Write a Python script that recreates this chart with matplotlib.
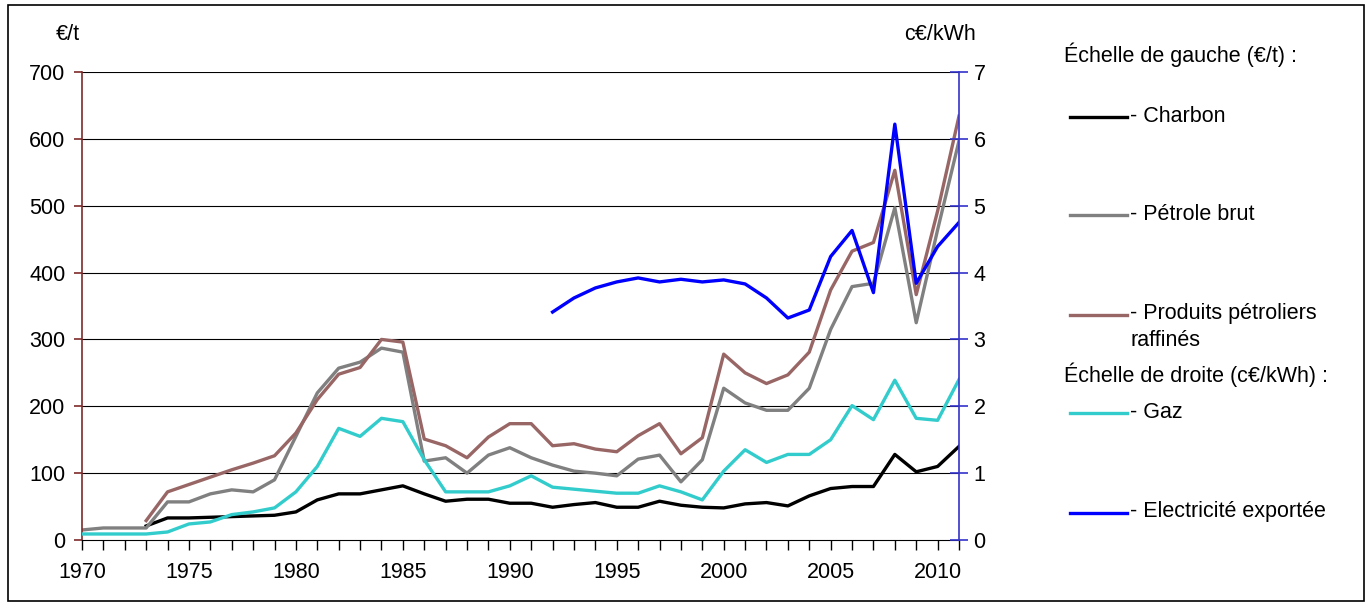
import matplotlib
matplotlib.use("Agg")
import matplotlib.pyplot as plt
import numpy as np
from matplotlib.lines import Line2D
from matplotlib.patches import Rectangle

plt.rcParams['font.family'] = ['Liberation Sans', 'DejaVu Sans']

years = list(range(1970, 2012))

charbon = [None, None, None, 21, 33, 33, 34, 35, 36, 37, 42, 60, 69, 69, 75, 81,
           69, 58, 61, 61, 55, 55, 49, 53, 56, 49, 49, 58, 52, 49, 48, 54,
           56, 51, 66, 77, 80, 80, 128, 102, 110, 140]
petrole = [15, 18, 18, 18, 57, 57, 69, 75, 72, 90, 155, 220, 257, 266, 287, 281,
           118, 123, 100, 127, 138, 123, 112, 103, 100, 96, 121, 127, 87, 120, 227, 205,
           194, 194, 227, 315, 379, 384, 497, 325, 464, 597]
produits = [None, None, None, 29, 72, 83, 94, 105, 115, 126, 160, 210, 248, 258, 300, 296,
            151, 141, 123, 154, 174, 174, 141, 144, 136, 132, 156, 174, 129, 153, 278, 250,
            234, 247, 281, 374, 432, 445, 553, 367, 492, 634]
gaz = [0.09, 0.09, 0.09, 0.09, 0.12, 0.24, 0.27, 0.38, 0.42, 0.48, 0.72, 1.10, 1.67, 1.55, 1.82, 1.77,
       1.20, 0.72, 0.72, 0.72, 0.81, 0.96, 0.79, 0.76, 0.73, 0.70, 0.70, 0.81, 0.72, 0.60, 1.03, 1.35,
       1.16, 1.28, 1.28, 1.50, 2.01, 1.80, 2.39, 1.82, 1.79, 2.40]
elec = [None] * 22 + [3.41, 3.62, 3.77, 3.86, 3.92, 3.86, 3.90, 3.86, 3.89, 3.83,
                      3.62, 3.32, 3.44, 4.24, 4.63, 3.70, 6.22, 3.84, 4.39, 4.75]

def arr(v):
    return np.array([np.nan if x is None else x for x in v], dtype=float)

fig = plt.figure(figsize=(13.7, 6.02), dpi=100)
ax = fig.add_axes([82/1370, 1-540/602, (959-82)/1370, (540-72)/602])
ax2 = ax.twinx()

lw = 2.4
ax.plot(years, arr(charbon), color='black', lw=lw)
ax.plot(years, arr(petrole), color='#808080', lw=lw)
ax.plot(years, arr(produits), color='#996666', lw=lw)
ax2.plot(years, arr(gaz), color='#33CCCC', lw=lw)
ax2.plot(years, arr(elec), color='#0000FF', lw=lw)

ax.set_xlim(1970, 2011)
ax.set_ylim(0, 700)
ax2.set_ylim(0, 7)
ax.set_yticks(range(0, 701, 100))
ax2.set_yticks(range(0, 8))
ax.set_xticks(range(1970, 2011, 5))
ax.set_xticks(range(1970, 2012), minor=True)

for v in range(100, 701, 100):
    ax.axhline(v, color='black', lw=0.8, zorder=0.5)

for s in ['top', 'right']:
    ax.spines[s].set_visible(False)
ax2.spines['top'].set_visible(False)
ax2.spines['left'].set_visible(False)
ax2.spines['bottom'].set_visible(False)
ax.spines['left'].set_color('#7F2A2A')
ax.spines['left'].set_linewidth(1.2)
ax2.spines['right'].set_color('#3333CC')
ax2.spines['right'].set_linewidth(1.2)
ax.spines['bottom'].set_color('black')

fs = 15.5
ax.tick_params(axis='y', colors='#7F2A2A', labelcolor='black', length=6, width=1.2,
               labelsize=fs, pad=6)
ax2.tick_params(axis='y', colors='#3333CC', labelcolor='black', length=13, width=1.2,
                labelsize=fs, direction='inout', pad=4)
ax.tick_params(axis='x', which='both', length=7, width=1, color='black',
               labelsize=fs, pad=9)

fig.text(68/1370, 1-34/602, '€/t', fontsize=fs, ha='center', va='center')
fig.text(940/1370, 1-34/602, 'c€/kWh', fontsize=fs, ha='center', va='center')

# legend
def ltext(x, y, s):
    fig.text(x/1370, 1-y/602, s, fontsize=fs, ha='left', va='center')

def lline(y, color):
    fig.add_artist(Line2D([1070/1370, 1127/1370], [1-y/602, 1-y/602],
                          color=color, lw=lw, transform=fig.transFigure))

ltext(1064, 55, 'Échelle de gauche (€/t) :')
lline(117, 'black'); ltext(1130, 116, '- Charbon')
lline(215, '#808080'); ltext(1130, 214, '- Pétrole brut')
lline(315, '#996666'); ltext(1130, 314, '- Produits pétroliers')
ltext(1130, 341, 'raffinés')
ltext(1064, 375, 'Échelle de droite (c€/kWh) :')
lline(413, '#33CCCC'); ltext(1130, 412, '- Gaz')
lline(513, '#0000FF'); ltext(1130, 512, '- Electricité exportée')

fig.add_artist(Rectangle((8/1370, 1/602), (1364-8)/1370, 596/602,
                         transform=fig.transFigure, fill=False, ec='black', lw=1.2))

fig.savefig('out.png', dpi=100)
